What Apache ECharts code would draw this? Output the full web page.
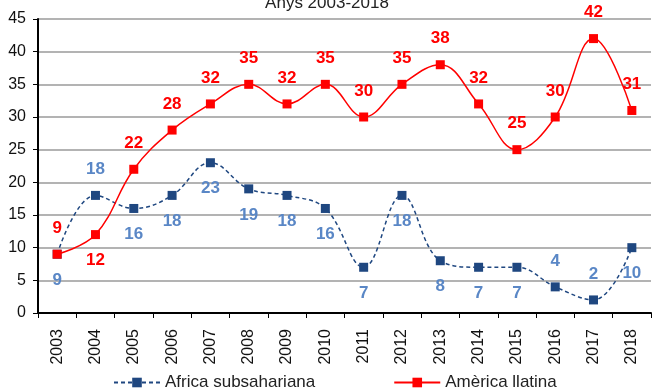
<!DOCTYPE html>
<html>
<head>
<meta charset="utf-8">
<script src="https://cdn.jsdelivr.net/npm/echarts@6/dist/echarts.min.js"></script>
<style>
  html, body { margin: 0; padding: 0; background: #fff; }
  #chart { width: 654px; height: 392px; }
</style>
</head>
<body>
<div id="chart"></div>
<script>
// Years on the category axis
const years = ['2003','2004','2005','2006','2007','2008','2009','2010',
               '2011','2012','2013','2014','2015','2016','2017','2018'];

// Series values
const africaValues = [9, 18, 16, 18, 23, 19, 18, 16, 7, 18, 8, 7, 7, 4, 2, 10];
const latamValues  = [9, 12, 22, 28, 32, 35, 32, 35, 30, 35, 38, 32, 25, 30, 42, 31];

// Where each value label sits relative to its marker
const africaLabelSide = ['bottom','top','bottom','bottom','bottom','bottom','bottom','bottom',
                         'bottom','bottom','bottom','bottom','bottom','top','top','bottom'];
const latamLabelSide  = ['top','bottom','top','top','top','top','top','top',
                         'top','top','top','top','top','top','top','top'];

const sansFont = '"Liberation Sans", Arial, sans-serif';

function withLabels(values, sides) {
  return values.map((v, i) => ({ value: v, label: { position: sides[i] } }));
}

const chart = echarts.init(document.getElementById('chart'), null, { renderer: 'canvas' });

chart.setOption({
  animation: false,
  backgroundColor: '#ffffff',
  title: {
    text: 'Anys 2003-2018',
    left: 'center',
    top: -10,
    textStyle: {
      fontFamily: sansFont,
      fontWeight: 'normal',
      fontSize: 17,
      color: '#222'
    }
  },
  grid: { left: 38, right: 3, top: 19, bottom: 79, containLabel: false },
  legend: {
    bottom: -4,
    left: 108,
    itemGap: 78,
    itemWidth: 46,
    itemHeight: 12,
    textStyle: {
      fontFamily: sansFont,
      fontSize: 17,
      color: '#222'
    },
    data: ['Africa subsahariana', 'Amèrica llatina']
  },
  xAxis: {
    type: 'category',
    data: years,
    boundaryGap: true,
    axisLine: { lineStyle: { color: '#000', width: 2 } },
    axisTick: { show: true, alignWithLabel: false, length: 5, lineStyle: { color: '#000', width: 1 } },
    axisLabel: {
      rotate: 90,
      interval: 0,
      fontFamily: sansFont,
      fontSize: 16,
      color: '#111',
      margin: 16
    },
    splitLine: { show: false }
  },
  yAxis: {
    type: 'value',
    min: 0,
    max: 45,
    interval: 5,
    axisLine: { show: true, lineStyle: { color: '#000', width: 2 } },
    axisTick: { show: true, length: 5, lineStyle: { color: '#000', width: 1 } },
    axisLabel: {
      fontFamily: sansFont,
      fontSize: 16,
      color: '#111',
      margin: 12
    },
    splitLine: { show: true, lineStyle: { color: '#9a9a9a', width: 1.5 } }
  },
  series: [
    {
      name: 'Africa subsahariana',
      type: 'line',
      smooth: 0.4,
      data: withLabels(africaValues, africaLabelSide),
      symbol: 'rect',
      symbolSize: 9,
      itemStyle: { color: '#1f4780' },
      lineStyle: { color: '#1f4780', width: 1.5, type: [4, 3] },
      label: {
        show: true,
        distance: 13,
        color: '#5a87c6',
        fontFamily: sansFont,
        fontWeight: 'bold',
        fontSize: 17
      },
      z: 3
    },
    {
      name: 'Amèrica llatina',
      type: 'line',
      smooth: 0.4,
      data: withLabels(latamValues, latamLabelSide),
      symbol: 'rect',
      symbolSize: 9,
      itemStyle: { color: '#ff0000' },
      lineStyle: { color: '#ff0000', width: 1.5 },
      label: {
        show: true,
        distance: 13,
        color: '#ff0000',
        fontFamily: sansFont,
        fontWeight: 'bold',
        fontSize: 17
      },
      z: 4
    }
  ]
});
</script>
</body>
</html>
